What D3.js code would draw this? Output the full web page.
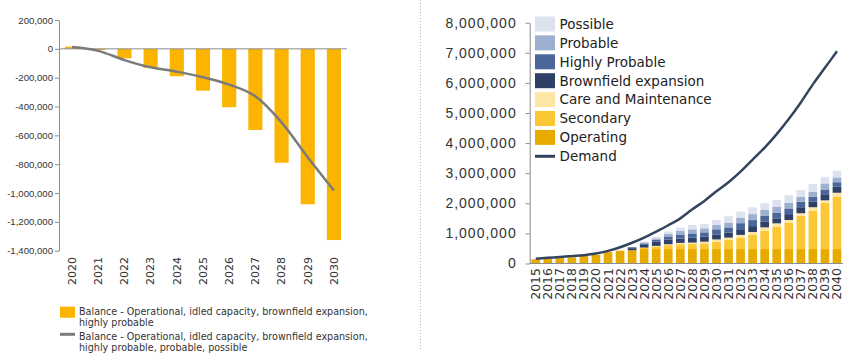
<!DOCTYPE html>
<html>
<head>
<meta charset="utf-8">
<script src="https://cdn.jsdelivr.net/npm/d3@7"></script>
<style>
body { margin: 0; background: #fff; }
svg { display: block; font-family: "DejaVu Sans", sans-serif; }
.tick text { fill: #333; }
</style>
</head>
<body>
<div id="container"></div>
<script>
const width = 850;
const height = 361;

// Left chart: balance 2020-2030
const balanceYears = ["2020","2021","2022","2023","2024","2025","2026","2027","2028","2029","2030"];
const balanceHighly = [15000, -8000, -66000, -132000, -190000, -290000, -405000, -563000, -790000, -1078000, -1326000];
const balanceAll = [12000, -14000, -78000, -128000, -158000, -197000, -248000, -329000, -510000, -752000, -983000];
const balanceTicks = [200000, 0, -200000, -400000, -600000, -800000, -1000000, -1200000, -1400000];

// Right chart: supply by stage vs demand 2015-2040
const supplyYears = ["2015","2016","2017","2018","2019","2020","2021","2022","2023","2024","2025","2026","2027",
	"2028","2029","2030","2031","2032","2033","2034","2035","2036","2037","2038","2039","2040"];
const operating = [140000, 160000, 180000, 205000, 250000, 290000, 380000, 425000, 440000, 480000, 480000, 480000, 480000,
	480000, 480000, 480000, 480000, 480000, 480000, 480000, 480000, 480000, 480000, 480000, 480000, 480000];
const secondary = [0, 0, 0, 0, 0, 0, 0, 0, 0, 50000, 85000, 130000, 160000,
	165000, 190000, 245000, 300000, 370000, 467000, 610000, 740000, 875000, 1100000, 1270000, 1540000, 1735000];
const careMaintenance = [0, 0, 0, 0, 0, 0, 0, 0, 0, 0, 20000, 30000, 45000,
	50000, 55000, 75000, 80000, 100000, 100000, 110000, 115000, 90000, 90000, 120000, 80000, 135000];
const brownfield = [0, 0, 0, 0, 0, 0, 0, 0, 70000, 90000, 140000, 150000, 145000,
	160000, 165000, 165000, 170000, 190000, 195000, 190000, 165000, 195000, 200000, 180000, 200000, 200000];
const highlyProbable = [0, 0, 0, 0, 0, 0, 0, 0, 30000, 50000, 70000, 110000, 135000,
	145000, 145000, 170000, 170000, 200000, 200000, 190000, 190000, 190000, 180000, 170000, 160000, 150000];
const probable = [0, 0, 0, 0, 0, 0, 0, 0, 0, 30000, 40000, 80000, 120000,
	135000, 135000, 145000, 160000, 185000, 200000, 200000, 200000, 190000, 170000, 160000, 200000, 160000];
const possible = [0, 0, 0, 0, 0, 0, 0, 0, 0, 30000, 60000, 90000, 110000,
	145000, 140000, 165000, 220000, 200000, 225000, 220000, 220000, 250000, 220000, 260000, 220000, 220000];
const demand = [160000, 190000, 215000, 245000, 275000, 330000, 420000, 540000, 690000, 860000, 1060000, 1270000, 1500000,
	1800000, 2080000, 2400000, 2700000, 3050000, 3450000, 3850000, 4300000, 4800000, 5350000, 5950000, 6500000, 7050000];
const supplyTicks = [0, 1000000, 2000000, 3000000, 4000000, 5000000, 6000000, 7000000, 8000000];

const stageNames = ["Operating", "Secondary", "Care and Maintenance", "Brownfield expansion", "Highly Probable", "Probable", "Possible"];
const stageValues = [operating, secondary, careMaintenance, brownfield, highlyProbable, probable, possible];
const stageColors = ["#e7ab00", "#fcc735", "#fde6a3", "#2f4066", "#4a669b", "#9eb0d0", "#dde3ee"];

const fmt = d => d3.format(",")(d).replace("\u2212", "-");

let svg = d3.select("#container")
	.append("svg")
	.attr("width", width)
	.attr("height", height);

// ---------- left chart ----------
const yL = d3.scaleLinear()
	.domain([-1400000, 200000])
	.range([250.7, 20]);
const xL = d3.scaleBand()
	.domain(balanceYears)
	.range([59, 347])
	.paddingInner(0.46)
	.paddingOuter(0.23);

let left = svg.append("g");

left.append("g")
	.attr("transform", "translate(59,0)")
	.call(d3.axisLeft(yL).tickValues(balanceTicks).tickFormat(fmt).tickSize(4).tickSizeOuter(0))
	.call(g => g.selectAll("path, line").attr("stroke", "#8c8c8c"))
	.call(g => g.selectAll("text").attr("font-size", 9.6).attr("x", -6));

left.selectAll(".bar")
	.data(balanceYears)
	.enter()
	.append("rect")
	.attr("x", d => xL(d))
	.attr("width", xL.bandwidth())
	.attr("y", (d, i) => yL(Math.max(0, balanceHighly[i])))
	.attr("height", (d, i) => Math.abs(yL(balanceHighly[i]) - yL(0)))
	.attr("fill", "#fbb400");

left.append("line")
	.attr("x1", 59).attr("x2", 347)
	.attr("y1", yL(0)).attr("y2", yL(0))
	.attr("stroke", "#8c8c8c");

left.append("path")
	.datum(balanceYears)
	.attr("fill", "none")
	.attr("stroke", "#7b7b7b")
	.attr("stroke-width", 2.5)
	.attr("d", d3.line()
		.x(d => xL(d) + xL.bandwidth() / 2)
		.y((d, i) => yL(balanceAll[i]))
		.curve(d3.curveMonotoneX));

left.selectAll(".xlab")
	.data(balanceYears)
	.enter()
	.append("text")
	.attr("transform", d => "translate(" + (xL(d) + xL.bandwidth() / 2) + ",257) rotate(-90)")
	.attr("text-anchor", "end")
	.attr("dy", "0.35em")
	.attr("font-size", 11)
	.attr("fill", "#333")
	.text(d => d);

// left legend
left.append("rect")
	.attr("x", 60).attr("y", 306.7).attr("width", 15).attr("height", 11)
	.attr("fill", "#fbb400");
left.append("line")
	.attr("x1", 60).attr("x2", 75).attr("y1", 334.3).attr("y2", 334.3)
	.attr("stroke", "#7b7b7b").attr("stroke-width", 3);
const legendLeft = [
	["Balance - Operational, idled capacity, brownfield expansion,", 315],
	["highly probable", 326],
	["Balance - Operational, idled capacity, brownfield expansion,", 340],
	["highly probable, probable, possible", 350.7]
];
left.selectAll(".leg")
	.data(legendLeft)
	.enter()
	.append("text")
	.attr("x", 79)
	.attr("y", d => d[1])
	.attr("font-size", 9.6)
	.attr("fill", "#333")
	.text(d => d[0]);

// divider
svg.append("line")
	.attr("x1", 420.5).attr("x2", 420.5)
	.attr("y1", 0).attr("y2", 350)
	.attr("stroke", "#b5b5b5")
	.attr("stroke-dasharray", "1,2");

// ---------- right chart ----------
const yR = d3.scaleLinear()
	.domain([0, 8000000])
	.range([263.5, 22.7]);
const xR = d3.scaleBand()
	.domain(supplyYears)
	.range([529.7, 843])
	.paddingInner(0.28)
	.paddingOuter(0.14);

let right = svg.append("g");

right.append("g")
	.attr("transform", "translate(529.7,0)")
	.call(d3.axisLeft(yR).tickValues(supplyTicks).tickFormat(fmt).tickSize(4).tickSizeOuter(0))
	.call(g => g.selectAll("path, line").attr("stroke", "#8c8c8c"))
	.call(g => g.selectAll("text").attr("font-size", 14).attr("x", -13).attr("letter-spacing", 1));

const table = supplyYears.map((y, i) => {
	let row = { year: y };
	stageNames.forEach((s, k) => { row[s] = stageValues[k][i]; });
	return row;
});
const series = d3.stack().keys(stageNames)(table);

right.selectAll(".layer")
	.data(series)
	.enter()
	.append("g")
	.attr("fill", (d, k) => stageColors[k])
	.selectAll("rect")
	.data(d => d)
	.enter()
	.append("rect")
	.attr("x", d => xR(d.data.year))
	.attr("width", xR.bandwidth())
	.attr("y", d => yR(d[1]))
	.attr("height", d => yR(d[0]) - yR(d[1]));

right.append("line")
	.attr("x1", 529.7).attr("x2", 843)
	.attr("y1", yR(0)).attr("y2", yR(0))
	.attr("stroke", "#8c8c8c");

right.append("path")
	.datum(supplyYears)
	.attr("fill", "none")
	.attr("stroke", "#34445f")
	.attr("stroke-width", 2.5)
	.attr("d", d3.line()
		.x(d => xR(d) + xR.bandwidth() / 2)
		.y((d, i) => yR(demand[i]))
		.curve(d3.curveMonotoneX));

right.selectAll(".xlab")
	.data(supplyYears)
	.enter()
	.append("text")
	.attr("transform", d => "translate(" + (xR(d) + xR.bandwidth() / 2) + ",268) rotate(-90)")
	.attr("text-anchor", "end")
	.attr("dy", "0.36em")
	.attr("font-size", 12.5)
	.attr("fill", "#333")
	.text(d => d);

// right legend, top to bottom
const legendNames = stageNames.slice().reverse();
const legendColors = stageColors.slice().reverse();
let legend = right.selectAll(".lg")
	.data(legendNames)
	.enter()
	.append("g")
	.attr("transform", (d, i) => "translate(535," + (24 + i * 18.9) + ")");
legend.append("rect")
	.attr("y", -7.5).attr("width", 20).attr("height", 15)
	.attr("fill", (d, i) => legendColors[i]);
legend.append("text")
	.attr("x", 24.5).attr("dy", "0.36em")
	.attr("font-size", 13.5)
	.attr("fill", "#222")
	.text(d => d);

right.append("line")
	.attr("x1", 535).attr("x2", 555)
	.attr("y1", 24 + 7 * 18.9).attr("y2", 24 + 7 * 18.9)
	.attr("stroke", "#34445f").attr("stroke-width", 3);
right.append("text")
	.attr("x", 559.5).attr("y", 24 + 7 * 18.9).attr("dy", "0.36em")
	.attr("font-size", 13.5)
	.attr("fill", "#222")
	.text("Demand");
</script>
</body>
</html>
